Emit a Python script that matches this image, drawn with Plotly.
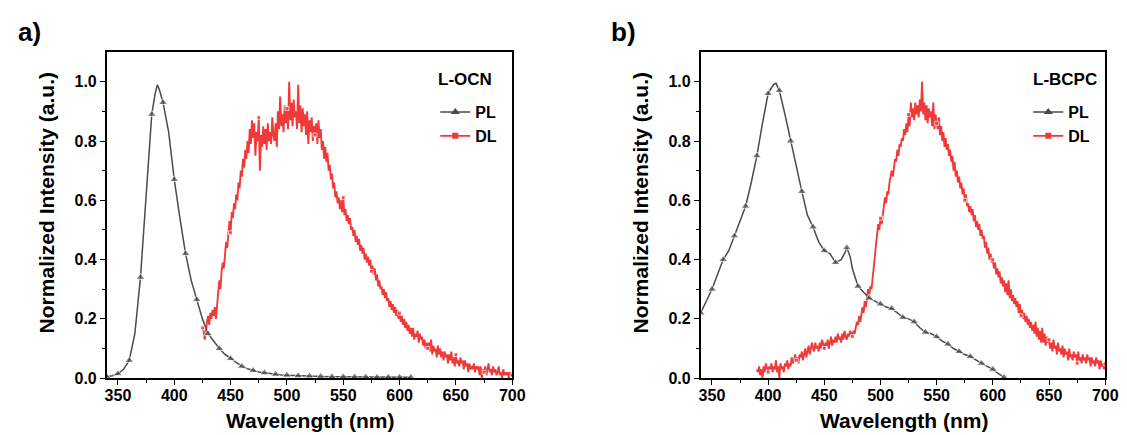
import plotly.graph_objects as go

W, H = 1127, 435

# ---------------- data ----------------
# Panel a) L-OCN
pl_ocn_wl = [340, 345, 350, 355, 360, 365, 370, 375, 380, 383, 385, 387, 390, 395, 400, 405, 410,
             415, 420, 425, 430, 435, 440, 445, 450, 455, 460, 465, 470, 475, 480, 485, 490, 495,
             500, 510, 520, 530, 540, 550, 560, 570, 580, 590, 600, 610]
pl_ocn = [0.005, 0.008, 0.015, 0.03, 0.06, 0.15, 0.34, 0.62, 0.89, 0.96, 0.99, 0.97, 0.93, 0.83,
          0.67, 0.54, 0.42, 0.33, 0.265, 0.20, 0.15, 0.125, 0.10, 0.08, 0.066, 0.052, 0.04, 0.032,
          0.026, 0.021, 0.018, 0.015, 0.013, 0.011, 0.01, 0.008, 0.007, 0.006, 0.005, 0.005, 0.004,
          0.004, 0.003, 0.003, 0.003, 0.003]

dl_ocn_start = 425  # 1 nm steps
dl_ocn = [
    0.17, 0.16, 0.13, 0.15, 0.19, 0.21, 0.18, 0.22, 0.20, 0.23,
    0.21, 0.24, 0.20, 0.26, 0.29, 0.33, 0.30, 0.36, 0.39, 0.37,
    0.43, 0.46, 0.44, 0.50, 0.53, 0.49, 0.56, 0.54, 0.59, 0.57,
    0.62, 0.60, 0.66, 0.64, 0.70, 0.68, 0.74, 0.71, 0.77, 0.74,
    0.80, 0.76, 0.84, 0.79, 0.87, 0.81, 0.86, 0.75, 0.83, 0.80,
    0.88, 0.70, 0.82, 0.78, 0.85, 0.79, 0.84, 0.77, 0.86, 0.80,
    0.83, 0.79, 0.88, 0.82, 0.80, 0.86, 0.78, 0.90, 0.84, 0.95,
    0.85, 0.89, 0.83, 0.92, 0.86, 0.91, 0.84, 1.00, 0.87, 0.93,
    0.85, 0.94, 0.88, 0.90, 0.84, 0.99, 0.86, 0.92, 0.83, 0.91,
    0.85, 0.89, 0.82, 0.90, 0.79, 0.87, 0.83, 0.88, 0.80, 0.85,
    0.82, 0.86, 0.79, 0.87, 0.81, 0.84, 0.77, 0.80, 0.74, 0.78,
    0.73, 0.76, 0.70, 0.72, 0.67, 0.69, 0.64, 0.66, 0.61, 0.63,
    0.59, 0.61, 0.57, 0.60, 0.56, 0.61, 0.55, 0.57, 0.53, 0.55,
    0.52, 0.54, 0.50, 0.51, 0.48, 0.50, 0.46, 0.48, 0.45, 0.47,
    0.43, 0.45, 0.42, 0.44, 0.40, 0.42, 0.39, 0.41, 0.38, 0.40,
    0.36, 0.38, 0.35, 0.37, 0.33, 0.35, 0.31, 0.33, 0.30, 0.31,
    0.28, 0.30, 0.27, 0.29, 0.26, 0.27, 0.24, 0.26, 0.23, 0.25,
    0.22, 0.24, 0.21, 0.23, 0.20, 0.22, 0.19, 0.21, 0.18, 0.20,
    0.17, 0.19, 0.16, 0.18, 0.15, 0.17, 0.14, 0.17, 0.13, 0.15,
    0.14, 0.16, 0.12, 0.15, 0.13, 0.14, 0.11, 0.13, 0.10, 0.12,
    0.10, 0.12, 0.09, 0.13, 0.08, 0.11, 0.09, 0.10, 0.07, 0.11,
    0.08, 0.10, 0.07, 0.09, 0.06, 0.09, 0.07, 0.08, 0.05, 0.08,
    0.06, 0.09, 0.05, 0.07, 0.04, 0.08, 0.05, 0.06, 0.04, 0.07,
    0.05, 0.06, 0.03, 0.06, 0.04, 0.05, 0.02, 0.05, 0.03, 0.04,
    0.03, 0.05, 0.02, 0.04, 0.03, 0.04, 0.01, 0.04, 0.00, 0.03,
    0.02, 0.04, 0.01, 0.03, 0.05, 0.02, 0.03, 0.01, 0.04, 0.02,
    0.03, 0.01, 0.02, 0.04, 0.01, 0.02, 0.00, 0.03, 0.01, 0.02,
    0.01, 0.02, 0.00, 0.02, 0.01, 0.01,
]

# Panel b) L-BCPC
pl_bcpc_wl = [340, 345, 350, 355, 360, 365, 370, 375, 380, 385, 390, 395, 400, 403, 405, 407, 410,
              415, 420, 425, 430, 435, 440, 445, 450, 455, 460, 465, 468, 470, 473, 475, 480, 485,
              490, 495, 500, 505, 510, 515, 520, 525, 530, 535, 540, 545, 550, 555, 560, 565, 570,
              575, 580, 585, 590, 595, 600, 605, 610]
pl_bcpc = [0.22, 0.26, 0.30, 0.35, 0.40, 0.43, 0.48, 0.53, 0.58, 0.66, 0.75, 0.86, 0.96, 0.98,
           0.99, 0.995, 0.97, 0.89, 0.80, 0.71, 0.63, 0.55, 0.51, 0.46, 0.43, 0.42, 0.39, 0.40,
           0.42, 0.44, 0.41, 0.37, 0.31, 0.29, 0.27, 0.26, 0.25, 0.24, 0.235, 0.22, 0.205, 0.20,
           0.19, 0.17, 0.155, 0.15, 0.14, 0.125, 0.115, 0.10, 0.09, 0.08, 0.073, 0.06, 0.05, 0.04,
           0.03, 0.015, 0.003]

dl_bcpc_start = 390  # 1 nm steps
dl_bcpc = [
    0.03, 0.02, 0.04, 0.01, 0.03, 0.00, 0.04, 0.02, 0.05, 0.03,
    0.02, 0.04, 0.03, 0.05, 0.02, 0.04, 0.03, 0.06, 0.02, 0.04,
    0.00, 0.05, 0.03, 0.04, 0.02, 0.05, 0.04, 0.06, 0.03, 0.05,
    0.04, 0.07, 0.05, 0.06, 0.08, 0.06, 0.07, 0.05, 0.08, 0.07,
    0.09, 0.06, 0.08, 0.10, 0.07, 0.09, 0.11, 0.08, 0.10, 0.12,
    0.10, 0.09, 0.12, 0.10, 0.11, 0.09, 0.12, 0.10, 0.13, 0.11,
    0.10, 0.12, 0.11, 0.13, 0.10, 0.12, 0.14, 0.11, 0.13, 0.12,
    0.14, 0.12, 0.15, 0.13, 0.14, 0.12, 0.15, 0.13, 0.16, 0.14,
    0.13, 0.15, 0.14, 0.16, 0.15, 0.14, 0.16, 0.15, 0.17, 0.19,
    0.18, 0.21, 0.19, 0.22, 0.24, 0.22, 0.26, 0.24, 0.27, 0.30,
    0.28, 0.31, 0.30, 0.33, 0.37, 0.41, 0.45, 0.49, 0.52, 0.50,
    0.54, 0.52, 0.56, 0.58, 0.61, 0.59, 0.63, 0.62, 0.66, 0.68,
    0.70, 0.68, 0.72, 0.74, 0.73, 0.77, 0.75, 0.79, 0.78, 0.81,
    0.80, 0.84, 0.82, 0.86, 0.83, 0.89, 0.85, 0.93, 0.88, 0.91,
    0.87, 0.93, 0.89, 0.92, 0.88, 0.94, 0.90, 1.00, 0.89, 0.93,
    0.87, 0.92, 0.86, 0.91, 0.88, 0.90, 0.85, 0.93, 0.84, 0.89,
    0.86, 0.84, 0.88, 0.82, 0.85, 0.80, 0.83, 0.78, 0.81, 0.77,
    0.79, 0.75, 0.77, 0.73, 0.75, 0.70, 0.73, 0.68, 0.70, 0.66,
    0.68, 0.64, 0.66, 0.62, 0.64, 0.60, 0.62, 0.58, 0.59, 0.56,
    0.58, 0.55, 0.57, 0.53, 0.55, 0.51, 0.53, 0.50, 0.52, 0.48,
    0.50, 0.47, 0.48, 0.44, 0.46, 0.42, 0.44, 0.40, 0.42, 0.39,
    0.40, 0.37, 0.39, 0.35, 0.37, 0.34, 0.36, 0.32, 0.34, 0.31,
    0.33, 0.29, 0.32, 0.28, 0.33, 0.27, 0.30, 0.26, 0.28, 0.25,
    0.27, 0.24, 0.26, 0.22, 0.25, 0.21, 0.23, 0.20, 0.22, 0.19,
    0.21, 0.18, 0.20, 0.17, 0.19, 0.16, 0.18, 0.15, 0.19, 0.14,
    0.17, 0.13, 0.16, 0.12, 0.17, 0.12, 0.15, 0.11, 0.14, 0.12,
    0.13, 0.10, 0.12, 0.09, 0.13, 0.10, 0.11, 0.08, 0.12, 0.09,
    0.10, 0.08, 0.11, 0.07, 0.10, 0.08, 0.09, 0.06, 0.10, 0.07,
    0.08, 0.06, 0.09, 0.07, 0.08, 0.05, 0.09, 0.06, 0.07, 0.05,
    0.08, 0.06, 0.07, 0.05, 0.08, 0.06, 0.07, 0.04, 0.07, 0.05,
    0.06, 0.04, 0.07, 0.05, 0.06, 0.03, 0.06, 0.04, 0.05, 0.03,
    0.05,
]

x_ticks = [350, 400, 450, 500, 550, 600, 650, 700]
y_ticks = [0.0, 0.2, 0.4, 0.6, 0.8, 1.0]
panel_labels = ["a)", "b)"]
sample_names = ["L-OCN", "L-BCPC"]
series_names = ["PL", "DL"]

# ---------------- style ----------------
PL_COLOR = "#4a4a4a"
DL_COLOR = "#f03a3a"
FONT = "Liberation Sans, Arial, sans-serif"

dl_ocn_wl = list(range(dl_ocn_start, dl_ocn_start + len(dl_ocn)))
dl_bcpc_wl = list(range(dl_bcpc_start, dl_bcpc_start + len(dl_bcpc)))


def px(xpix):
    return xpix / W


def py(ypix):
    return 1 - ypix / H


fig = go.Figure()

panels = [
    (pl_ocn_wl, pl_ocn, dl_ocn_wl, dl_ocn, "x", "y", "legend"),
    (pl_bcpc_wl, pl_bcpc, dl_bcpc_wl, dl_bcpc, "x2", "y2", "legend2"),
]
for plw, plv, dlw, dlv, xa, ya, lg in panels:
    fig.add_trace(go.Scatter(
        x=dlw, y=dlv, mode="lines+markers", name=series_names[1], showlegend=False,
        line=dict(color=DL_COLOR, width=1.9),
        marker=dict(symbol="square", color=DL_COLOR,
                    size=[4 if w % 25 == 0 else 0 for w in dlw]),
        xaxis=xa, yaxis=ya,
    ))
    fig.add_trace(go.Scatter(
        x=plw, y=plv, mode="lines+markers", name=series_names[0], showlegend=False,
        line=dict(color=PL_COLOR, width=1.5),
        marker=dict(symbol="triangle-up", color=PL_COLOR,
                    size=[8 if w % 10 == 0 else 0 for w in plw]),
        xaxis=xa, yaxis=ya,
    ))
    # legend entries (no data points)
    fig.add_trace(go.Scatter(
        x=[None], y=[None], mode="lines+markers", name=series_names[0],
        line=dict(color=PL_COLOR, width=1.5),
        marker=dict(symbol="triangle-up", color=PL_COLOR, size=8),
        xaxis=xa, yaxis=ya, legend=lg, legendrank=1,
    ))
    fig.add_trace(go.Scatter(
        x=[None], y=[None], mode="lines+markers", name=series_names[1],
        line=dict(color=DL_COLOR, width=1.9),
        marker=dict(symbol="square", color=DL_COLOR, size=6),
        xaxis=xa, yaxis=ya, legend=lg, legendrank=2,
    ))

axis_common = dict(
    showline=True, linecolor="black", linewidth=1.5, mirror=True,
    ticks="outside", ticklen=5, tickwidth=1.3, tickcolor="black",
    showgrid=False, zeroline=False,
    tickfont=dict(family=FONT, size=16, color="black", weight="bold"),
)

xdoms = [[px(98), px(509)], [px(700), px(1110)]]
ydom = [py(378), py(45)]

for i, xd in enumerate(xdoms):
    sfx = "" if i == 0 else "2"
    fig.layout["xaxis" + sfx] = dict(
        axis_common, domain=xd, range=[340, 700], tickvals=x_ticks,
        anchor="y" + sfx, ticklabelstandoff=-3,
        minor=dict(ticks="outside", ticklen=3, tickwidth=1.2, tickcolor="black",
                   tickvals=[375, 425, 475, 525, 575, 625, 675]),
    )
    fig.layout["yaxis" + sfx] = dict(
        axis_common, domain=ydom, range=[0, 1.1], tickvals=y_ticks,
        tickformat=".1f", anchor="x" + sfx,
        minor=dict(ticks="outside", ticklen=3, tickwidth=1.2, tickcolor="black",
                   tickvals=[0.1, 0.3, 0.5, 0.7, 0.9]),
    )

annots = []
bold = dict(family=FONT, color="black", weight="bold")
# axis titles
for cx in [304, 906]:
    annots.append(dict(text="Wavelength (nm)", x=px(cx), y=py(421), xref="paper", yref="paper",
                       showarrow=False, xanchor="center", yanchor="middle",
                       font=dict(bold, size=21)))
for cx in [37, 639]:
    annots.append(dict(text="Normalized Intensity (a.u.)", x=px(cx), y=py(199), xref="paper",
                       yref="paper", showarrow=False, xanchor="center", yanchor="middle",
                       textangle=-90, font=dict(bold, size=21)))
# panel labels
for lab, lx in zip(panel_labels, [6, 607]):
    annots.append(dict(text=lab, x=px(lx), y=py(24), xref="paper", yref="paper",
                       showarrow=False, xanchor="left", yanchor="middle",
                       font=dict(bold, size=26)))
# sample names
for nm, rx in zip(sample_names, [491, 1104]):
    annots.append(dict(text=nm, x=px(rx), y=py(73), xref="paper", yref="paper",
                       showarrow=False, xanchor="right", yanchor="middle",
                       font=dict(bold, size=17)))

legend_common = dict(
    bgcolor="rgba(0,0,0,0)", borderwidth=0, xanchor="left", yanchor="top",
    font=dict(family=FONT, size=16, color="black", weight="bold"),
    tracegroupgap=0, itemwidth=30,
)
fig.update_layout(
    width=W, height=H,
    margin=dict(l=0, r=0, t=0, b=0),
    paper_bgcolor="white", plot_bgcolor="white",
    showlegend=True,
    legend=dict(legend_common, x=px(431), y=py(89)),
    legend2=dict(legend_common, x=px(1032), y=py(89)),
    annotations=annots,
)

fig.write_html("out.html")
